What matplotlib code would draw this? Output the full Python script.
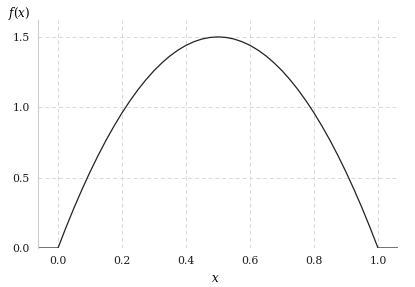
import matplotlib
matplotlib.use("Agg")
import matplotlib.pyplot as plt

# curve values (density, zero outside [0, 1])
xs = [-0.0625, 0.0, 0.025, 0.05, 0.075, 0.1, 0.125, 0.15, 0.175, 0.2, 0.225,
      0.25, 0.275, 0.3, 0.325, 0.35, 0.375, 0.4, 0.425, 0.45, 0.475, 0.5,
      0.525, 0.55, 0.575, 0.6, 0.625, 0.65, 0.675, 0.7, 0.725, 0.75, 0.775,
      0.8, 0.825, 0.85, 0.875, 0.9, 0.925, 0.95, 0.975, 1.0, 1.0625]
ys = [0.0, 0.0, 0.146, 0.285, 0.416, 0.54, 0.656, 0.765, 0.866, 0.96, 1.046,
      1.125, 1.196, 1.26, 1.316, 1.365, 1.406, 1.44, 1.466, 1.485, 1.496, 1.5,
      1.496, 1.485, 1.466, 1.44, 1.406, 1.365, 1.316, 1.26, 1.196, 1.125, 1.046,
      0.96, 0.866, 0.765, 0.656, 0.54, 0.416, 0.285, 0.146, 0.0, 0.0]
x_ticks = [0.0, 0.2, 0.4, 0.6, 0.8, 1.0]
y_ticks = [0.0, 0.5, 1.0, 1.5]

plt.rcParams["font.family"] = ["DejaVu Serif"]
plt.rcParams["mathtext.fontset"] = "dejavuserif"

fig = plt.figure(figsize=(4.15, 2.87), dpi=100)
ax = fig.add_axes([38 / 415, 1 - 248 / 287, 360 / 415, 228 / 287])

ax.plot(xs, ys, color="#222222", lw=0.9)
ax.set_xlim(-0.0625, 1.0625)
ax.set_ylim(0, 1.62)
ax.set_xticks(x_ticks)
ax.set_yticks(y_ticks)
ax.set_xticklabels([f"{t:.1f}" for t in x_ticks])
ax.set_yticklabels([f"{t:.1f}" for t in y_ticks])
ax.tick_params(length=0, labelsize=7.8, colors="#1a1a1a", pad=6)
ax.grid(True, ls=(0, (4, 3)), color="#d8d8d8", lw=0.7)
ax.set_axisbelow(True)

for side in ["top", "right", "bottom"]:
    ax.spines[side].set_visible(False)
ax.spines["left"].set_color("#cccccc")
ax.spines["left"].set_linewidth(0.8)

fig.text(8 / 415, 1 - 14 / 287, "$f(x)$", fontsize=8.5, va="center", ha="left")
fig.text(215 / 415, 1 - 278 / 287, "$x$", fontsize=8.5, va="center", ha="center")

fig.savefig("out.png", dpi=100)
